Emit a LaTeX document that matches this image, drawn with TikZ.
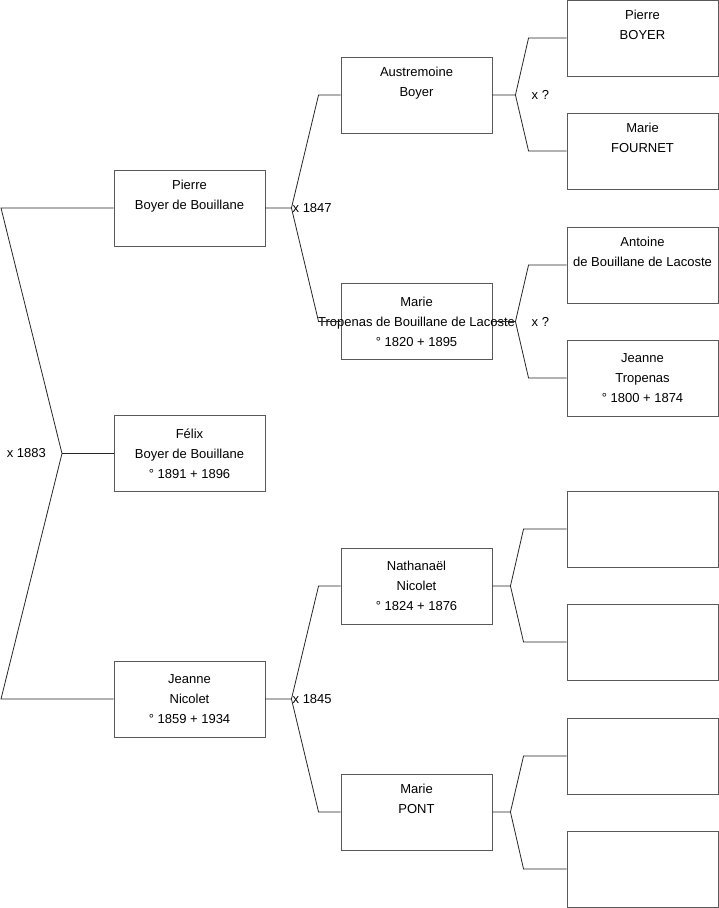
\documentclass[tikz,border=0pt]{standalone}
\usepackage{fontspec}
\setmainfont{Liberation Sans}
\usepackage{tikz}
\usetikzlibrary{positioning}

\begin{document}
\begin{tikzpicture}[
  x=1pt, y=-1pt,
  pbox/.style={rectangle, draw=black!65, line width=0.9pt,
               minimum width=151pt, minimum height=76pt,
               inner sep=0pt, align=center,
               font=\fontsize{13}{20}\selectfont},
  link/.style={draw=black!85, line width=0.8pt},
  wed/.style={font=\fontsize{13}{14}\selectfont, inner sep=1pt}
]
\useasboundingbox (0,0) rectangle (719,908);

% Generation 1
\node[pbox] (pierre) at (189.5,208) {Pierre\\Boyer de Bouillane\\\strut};
\node[pbox] (felix)  at (189.5,453.5) {Félix\\Boyer de Bouillane\\° 1891 + 1896};
\node[pbox] (jeanne) at (189.5,699) {Jeanne\\Nicolet\\° 1859 + 1934};

% Generation 2
\node[pbox] (austremoine) at (416.5,95) {Austremoine\\Boyer\\\strut};
\node[pbox] (marieT)      at (416.5,321.5)
    {Marie\\\makebox[0pt]{Tropenas de Bouillane de Lacoste}\\° 1820 + 1895};
\node[pbox] (nathanael)   at (416.5,586) {Nathanaël\\Nicolet\\° 1824 + 1876};
\node[pbox] (marieP)      at (416.5,812) {Marie\\PONT\\\strut};

% Generation 3
\node[pbox] (g1) at (642.5,38)  {Pierre\\BOYER\\\strut};
\node[pbox] (g2) at (642.5,151) {Marie\\FOURNET\\\strut};
\node[pbox] (g3) at (642.5,265) {Antoine\\de Bouillane de Lacoste\\\strut};
\node[pbox] (g4) at (642.5,378) {Jeanne\\Tropenas\\° 1800 + 1874};
\node[pbox] (g5) at (642.5,529) {};
\node[pbox] (g6) at (642.5,642) {};
\node[pbox] (g7) at (642.5,756) {};
\node[pbox] (g8) at (642.5,869) {};

% Left bracket
\coordinate (root) at (62,453.5);
\draw[link] (pierre.west) -- (pierre.west -| 1,0) -- (root)
            -- (jeanne.west -| 1,0) -- (jeanne.west);
\draw[link] (root) -- (felix.west);
\node[wed, anchor=east] (w0) at ([xshift=-15]root) {x 1883};

% Parents of Pierre
\draw[link] (pierre.east) -- ++(26,0) coordinate (jp)
            -- ([xshift=-22]austremoine.west) -- (austremoine.west);
\draw[link] (jp) -- ([xshift=-22]marieT.west) -- (marieT.west);
\node[wed, anchor=west] (w1) at (jp) {x 1847};

% Parents of Jeanne
\draw[link] (jeanne.east) -- ++(26,0) coordinate (jj)
            -- ([xshift=-22]nathanael.west) -- (nathanael.west);
\draw[link] (jj) -- ([xshift=-22]marieP.west) -- (marieP.west);
\node[wed, anchor=west] (w2) at (jj) {x 1845};

% Parents of Austremoine
\draw[link] (austremoine.east) -- ++(23,0) coordinate (ja)
            -- ([xshift=-38]g1.west) -- (g1.west);
\draw[link] (ja) -- ([xshift=-38]g2.west) -- (g2.west);
\node[wed, anchor=west] (w3) at ([xshift=15]ja) {x ?};

% Parents of Marie Tropenas
\draw[link] (marieT.east) -- ++(23,0) coordinate (jm)
            -- ([xshift=-38]g3.west) -- (g3.west);
\draw[link] (jm) -- ([xshift=-38]g4.west) -- (g4.west);
\node[wed, anchor=west] (w4) at ([xshift=15]jm) {x ?};

% Parents of Nathanael
\draw[link] (nathanael.east) -- ++(18,0) coordinate (jn)
            -- ([xshift=-43]g5.west) -- (g5.west);
\draw[link] (jn) -- ([xshift=-43]g6.west) -- (g6.west);

% Parents of Marie Pont
\draw[link] (marieP.east) -- ++(18,0) coordinate (jq)
            -- ([xshift=-43]g7.west) -- (g7.west);
\draw[link] (jq) -- ([xshift=-43]g8.west) -- (g8.west);

\end{tikzpicture}
\end{document}
